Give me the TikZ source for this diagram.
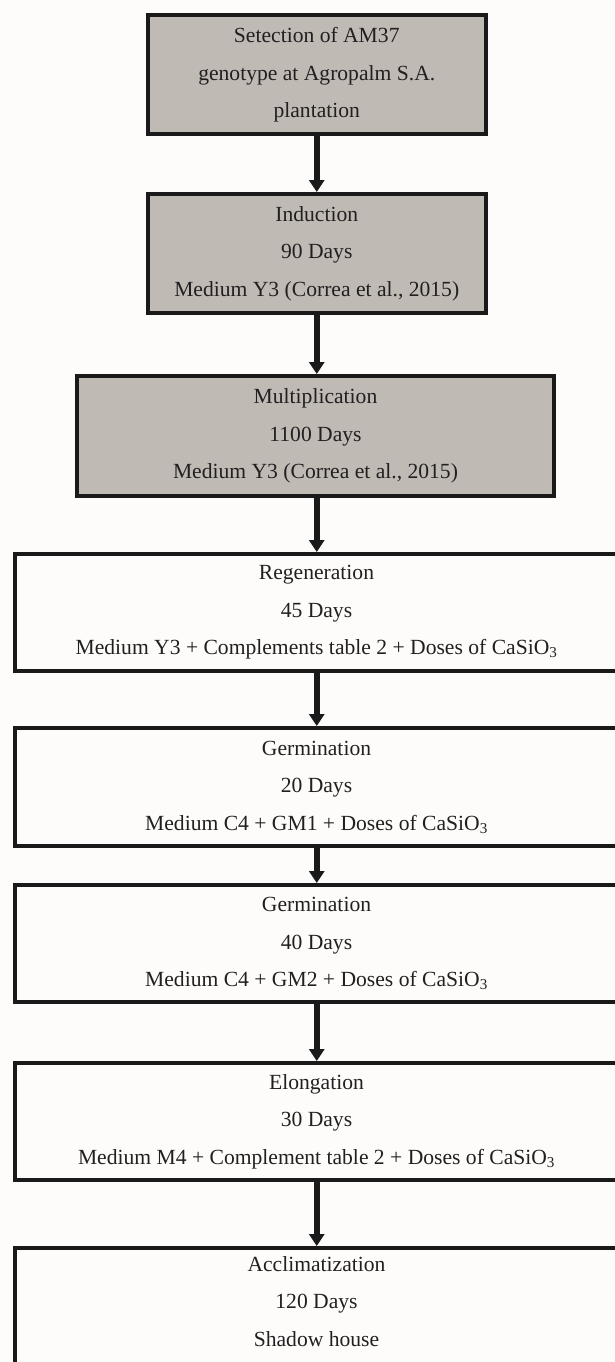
\documentclass[tikz,border=0pt]{standalone}
\usepackage{fontspec}
\setmainfont{Liberation Serif}
\usetikzlibrary{arrows.meta}
\definecolor{boxgray}{HTML}{C0BAB5}
\definecolor{bgcol}{HTML}{FDFCFB}
\definecolor{ink}{HTML}{231F20}
\definecolor{edge}{HTML}{1A1A1A}
\newcommand{\sub}[1]{\textsubscript{#1}}
\tikzset{
  stagetext/.style={align=center, text=ink,
    font=\fontsize{21.6}{37.5}\selectfont, inner sep=0pt},
  stage/.style={stagetext, draw=edge, line width=4pt, rectangle},
  grayst/.style={stage, fill=boxgray},
  whitest/.style={stage, fill=bgcol},
  flow/.style={draw=edge, line width=5.5pt, -{Triangle[width=15pt,length=12pt]}}
}
\begin{document}
\begin{tikzpicture}[x=1pt,y=-1pt]
\useasboundingbox (0,0) rectangle (615,1362);
\fill[bgcol] (0,0) rectangle (615,1362);
\clip (0,0) rectangle (615,1362);
\node[grayst, minimum width=337.5pt, minimum height=119.5pt] (b1) at (316.75,74.75)
  {Setection of AM37\\genotype at Agropalm S.A.\\plantation};
\node[grayst, minimum width=337.5pt, minimum height=119pt] (b2) at (316.75,253.5)
  {Induction\\90 Days\\Medium Y3 (Correa et al., 2015)};
\node[grayst, minimum width=477pt, minimum height=120pt] (b3) at (315.5,436)
  {Multiplication\\1100 Days\\Medium Y3 (Correa et al., 2015)};
\node[whitest, minimum width=603pt, minimum height=117pt] (b4) at (316.5,612.5)
  {Regeneration\\45 Days\\Medium Y3 + Complements table 2 + Doses of CaSiO\sub{3}};
\node[whitest, minimum width=603pt, minimum height=118pt] (b5) at (316.5,787)
  {Germination\\20 Days\\Medium C4 + GM1 + Doses of CaSiO\sub{3}};
\node[whitest, minimum width=603pt, minimum height=117pt] (b6) at (316.5,943.5)
  {Germination\\40 Days\\Medium C4 + GM2 + Doses of CaSiO\sub{3}};
\node[whitest, minimum width=603pt, minimum height=117pt] (b7) at (316.5,1121.5)
  {Elongation\\30 Days\\Medium M4 + Complement table 2 + Doses of CaSiO\sub{3}};
\node[whitest, minimum width=603pt, minimum height=140pt] (b8) at (316.5,1318) {};
\node[stagetext] (b8text) at (316.5,1301.5)
  {Acclimatization\\120 Days\\Shadow house};
\draw[flow] (b1.south) -- (b2.north);
\draw[flow] (b2.south) -- (b2.south |- b3.north);
\draw[flow] (b2.south |- b3.south) -- (b2.south |- b4.north);
\draw[flow] (b2.south |- b4.south) -- (b2.south |- b5.north);
\draw[flow] (b2.south |- b5.south) -- (b2.south |- b6.north);
\draw[flow] (b2.south |- b6.south) -- (b2.south |- b7.north);
\draw[flow] (b2.south |- b7.south) -- (b2.south |- b8.north);
\end{tikzpicture}
\end{document}
